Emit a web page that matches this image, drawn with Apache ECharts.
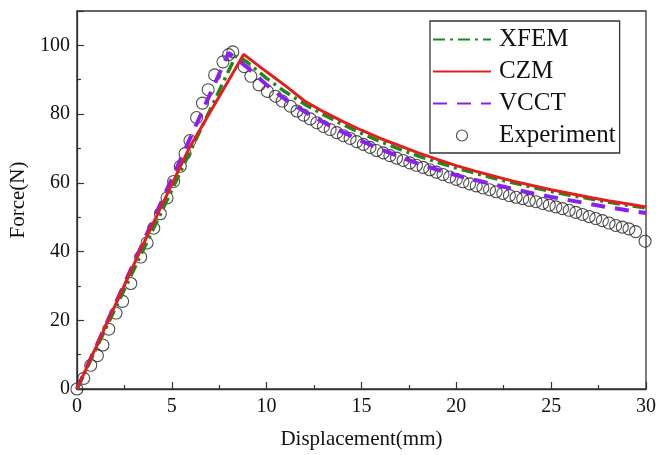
<!DOCTYPE html>
<html>
<head>
<meta charset="utf-8">
<script src="https://cdn.jsdelivr.net/npm/echarts@6/dist/echarts.min.js"></script>
<style>
  html, body { margin: 0; padding: 0; background: #fff; }
  #chart { width: 659px; height: 455px; }
</style>
</head>
<body>
<div id="chart"></div>
<script>
// Force–displacement curves: three numerical models against the test record.
const xfemDisp  = [0, 8.4, 9, 10, 11, 12, 13, 14, 15, 16, 17, 18, 19, 20, 21, 22, 23, 24, 25, 26, 27, 28, 29, 30];
const xfemForce = [0, 97.2, 95.0, 90.4, 86.4, 82.9, 79.8, 77.0, 74.4, 72.0, 69.8, 67.8, 66.0, 64.3, 62.8, 61.3, 60.0, 58.7, 57.5, 56.4, 55.4, 54.4, 53.5, 52.7];

const czmDisp  = [0, 3.4, 5.9, 8.8, 9, 10, 11, 12, 13, 14, 15, 16, 17, 18, 19, 20, 21, 22, 23, 24, 25, 26, 27, 28, 29, 30];
const czmForce = [0, 41.0, 69.9, 97.4, 96.5, 92.3, 88.2, 83.8, 80.7, 77.9, 75.3, 72.9, 70.8, 68.7, 66.8, 65.0, 63.4, 61.9, 60.5, 59.2, 58.0, 56.9, 55.8, 54.8, 53.9, 53.0];

const vcctDisp  = [0, 8.0, 9, 10, 11, 12, 13, 14, 15, 16, 17, 18, 19, 20, 21, 22, 23, 24, 25, 26, 27, 28, 29, 30];
const vcctForce = [0, 97.8, 93.5, 88.5, 84.2, 80.7, 77.6, 74.8, 72.2, 69.8, 67.6, 65.6, 63.8, 62.2, 60.8, 59.5, 58.2, 57.0, 55.9, 54.9, 53.9, 52.9, 52.0, 51.2];

const expDisp = [0, 0.36, 0.73, 1.08, 1.37, 1.68, 2.06, 2.41, 2.84, 3.36, 3.7, 4.05, 4.4, 4.75, 5.1, 5.45, 5.7, 5.96,
  6.31, 6.62, 6.92, 7.26, 7.7, 8.0, 8.22,
  8.82, 9.17, 9.6, 10.04, 10.47, 10.82, 11.25, 11.6, 11.95, 12.3, 12.65, 13.0, 13.35, 13.7, 14.05, 14.4, 14.75,
  15.1, 15.45, 15.8, 16.15, 16.5, 16.85, 17.2, 17.55, 17.9, 18.25, 18.6, 18.95, 19.3, 19.65, 20.0, 20.35, 20.7,
  21.05, 21.4, 21.75, 22.1, 22.45, 22.8, 23.15, 23.5, 23.85, 24.2, 24.55, 24.9, 25.25, 25.6, 25.95, 26.3, 26.65,
  27.0, 27.35, 27.7, 28.05, 28.4, 28.75, 29.1, 29.45, 29.95];
const expForce = [0, 3.1, 6.9, 9.7, 12.8, 17.4, 22.1, 25.5, 30.7, 38.4, 42.5, 46.8, 51.0, 55.6, 60.4, 64.8, 68.5, 72.3,
  79.0, 83.2, 87.1, 91.4, 95.2, 97.3, 98.1,
  93.8, 91.0, 88.5, 86.6, 85.2, 83.8, 82.3, 80.9, 79.7, 78.6, 77.5, 76.4, 75.5, 74.6, 73.7, 72.9, 72.0,
  71.2, 70.3, 69.4, 68.7, 67.9, 67.2, 66.5, 65.8, 65.1, 64.5, 63.8, 63.1, 62.4, 61.7, 61.0, 60.3, 59.7,
  59.1, 58.5, 58.0, 57.4, 56.9, 56.3, 55.8, 55.4, 54.9, 54.5, 54.0, 53.5, 53.0, 52.5, 52.0, 51.4, 50.8,
  50.2, 49.6, 49.0, 48.3, 47.6, 47.1, 46.6, 45.8, 43.0];

const xTicks = [0, 5, 10, 15, 20, 25, 30];
const yTicks = [0, 20, 40, 60, 80, 100];

function pairs(xs, ys) {
  const n = Math.min(xs.length, ys.length);
  const out = [];
  for (let i = 0; i < n; i++) out.push([xs[i], ys[i]]);
  return out;
}

const FONT = '"Liberation Serif", "DejaVu Serif", serif';
const AXIS = '#333';
const NO_MARKER = { opacity: 0 };

const chart = echarts.init(document.getElementById('chart'), null, { renderer: 'canvas' });

chart.setOption({
  animation: false,
  backgroundColor: '#fff',
  grid: {
    left: 72, right: 10, top: 11, bottom: 61,
    show: true, borderColor: AXIS, borderWidth: 1.3, backgroundColor: 'transparent'
  },
  legend: {
    orient: 'vertical',
    left: 430, top: 21,
    padding: [6, 4, 5, 2],
    itemGap: 7,
    itemWidth: 58,
    itemHeight: 11,
    backgroundColor: '#fff',
    borderColor: '#333',
    borderWidth: 1.3,
    textStyle: { fontFamily: FONT, fontSize: 25, color: '#111', padding: [0, 0, 0, 3] },
    data: [
      { name: 'XFEM', itemStyle: NO_MARKER },
      { name: 'CZM', itemStyle: NO_MARKER },
      { name: 'VCCT', itemStyle: NO_MARKER },
      { name: 'Experiment', itemStyle: { color: '#fff', borderColor: '#222', borderWidth: 1.2 } }
    ]
  },
  xAxis: {
    type: 'value',
    min: xTicks[0], max: xTicks[xTicks.length - 1], interval: 5,
    name: 'Displacement(mm)',
    nameLocation: 'middle',
    nameGap: 40,
    nameTextStyle: { fontFamily: FONT, fontSize: 21, color: '#111' },
    axisLine: { show: true, lineStyle: { color: AXIS, width: 1.3 } },
    axisTick: { show: true, inside: true, length: 7, lineStyle: { color: AXIS, width: 1.2 } },
    minorTick: { show: true, splitNumber: 2, length: 4, lineStyle: { color: AXIS, width: 1.2 } },
    axisLabel: {
      fontFamily: FONT, fontSize: 20, color: '#111', margin: 8,
      formatter: v => (xTicks.indexOf(v) >= 0 ? String(v) : '')
    },
    splitLine: { show: false }
  },
  yAxis: {
    type: 'value',
    min: 0, max: 110, interval: 20,
    name: 'Force(N)',
    nameLocation: 'middle',
    nameGap: 42,
    nameTextStyle: { fontFamily: FONT, fontSize: 21, color: '#111' },
    axisLine: { show: true, lineStyle: { color: AXIS, width: 1.3 } },
    axisTick: { show: true, inside: true, length: 7, lineStyle: { color: AXIS, width: 1.2 } },
    minorTick: { show: true, splitNumber: 2, length: 4, lineStyle: { color: AXIS, width: 1.2 } },
    axisLabel: {
      fontFamily: FONT, fontSize: 20, color: '#111', margin: 7,
      formatter: v => (yTicks.indexOf(v) >= 0 ? String(v) : '')
    },
    splitLine: { show: false }
  },
  series: [
    {
      name: 'Experiment',
      type: 'scatter',
      data: pairs(expDisp, expForce),
      symbol: 'circle',
      symbolSize: 12,
      itemStyle: { color: 'rgba(255,255,255,0)', borderColor: '#222', borderWidth: 1.1 },
      z: 2
    },
    {
      name: 'VCCT',
      type: 'line',
      data: pairs(vcctDisp, vcctForce),
      symbol: 'none',
      lineStyle: { color: '#8a1ff0', width: 4, type: [14, 10] },
      itemStyle: { color: '#8a1ff0' },
      z: 3
    },
    {
      name: 'XFEM',
      type: 'line',
      data: pairs(xfemDisp, xfemForce),
      symbol: 'none',
      lineStyle: { color: '#1a8a1a', width: 3.5, type: [12, 5, 3, 5] },
      itemStyle: { color: '#1a8a1a' },
      z: 4
    },
    {
      name: 'CZM',
      type: 'line',
      data: pairs(czmDisp, czmForce),
      symbol: 'none',
      lineStyle: { color: '#e41e1e', width: 3 },
      itemStyle: { color: '#e41e1e' },
      z: 5
    }
  ]
});
</script>
</body>
</html>
